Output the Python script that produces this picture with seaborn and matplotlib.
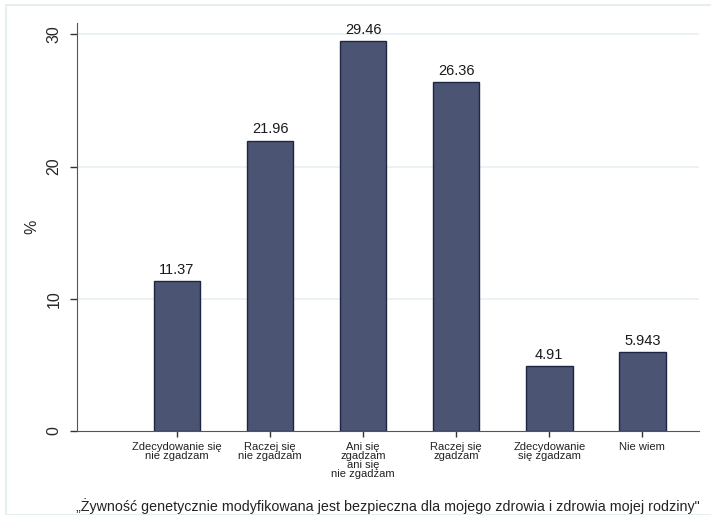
import pandas as pd
import numpy as np
import matplotlib
matplotlib.use("Agg")
import matplotlib.pyplot as plt
import seaborn as sns
from matplotlib.patches import Rectangle

# Data
categories = ["Zdecydowanie się\nnie zgadzam", "Raczej się\nnie zgadzam",
              "Ani się\nzgadzam\nani się\nnie zgadzam", "Raczej się\nzgadzam",
              "Zdecydowanie\nsię zgadzam", "Nie wiem"]
percent = [11.37, 21.96, 29.46, 26.36, 4.91, 5.943]
value_labels = ["11.37", "21.96", "29.46", "26.36", "4.91", "5.943"]

df = pd.DataFrame({"cat": categories, "pct": percent})

sns.set_style("white")
plt.rcParams['font.family'] = ['Liberation Sans', 'DejaVu Sans']

fig = plt.figure(figsize=(7.11, 5.15), dpi=100)
ax = fig.add_axes([0.1083, 0.163, 0.875, 0.792])

sns.barplot(data=df, x="cat", y="pct", color="#4b5573", saturation=1,
            width=0.5, edgecolor="#1c2744", linewidth=1.0, ax=ax)

ax.bar_label(ax.containers[0], labels=value_labels, padding=3,
             fontsize=10.5, color="#1a1a1a")

ax.set_xlim(-1.075, 5.61)
ax.set_ylim(0, 30.84)
ax.set_yticks([0, 10, 20, 30])
ax.set_yticklabels(["0", "10", "20", "30"], rotation=90, va="center", fontsize=11.5)
for y in [10, 20, 30]:
    ax.axhline(y, color="#e8f0f3", linewidth=1.2, zorder=0)

ax.tick_params(axis="y", direction="out", length=5, width=1, color="#333333",
               left=True, pad=6)
ax.tick_params(axis="x", direction="out", length=4, width=1, color="#333333",
               bottom=True, labelsize=8, pad=4)
for lbl in ax.get_xticklabels():
    lbl.set_linespacing(0.85)
    lbl.set_color("#222222")

ax.set_ylabel("%", fontsize=11.5, labelpad=5)
ax.set_xlabel("\u201eŻywność genetycznie modyfikowana jest bezpieczna dla mojego zdrowia i zdrowia mojej rodziny\"",
              fontsize=10.3, color="#222222", labelpad=14)

sns.despine(ax=ax, top=True, right=True)
ax.spines["left"].set_color("#555555")
ax.spines["bottom"].set_color("#555555")

# light outer frame
fig.patches.append(Rectangle((6 / 711, 0.0), 1, 1 - 5 / 515, transform=fig.transFigure,
                             fill=False, edgecolor="#e6eef1", linewidth=1.5))

fig.savefig("out.png", dpi=100)
